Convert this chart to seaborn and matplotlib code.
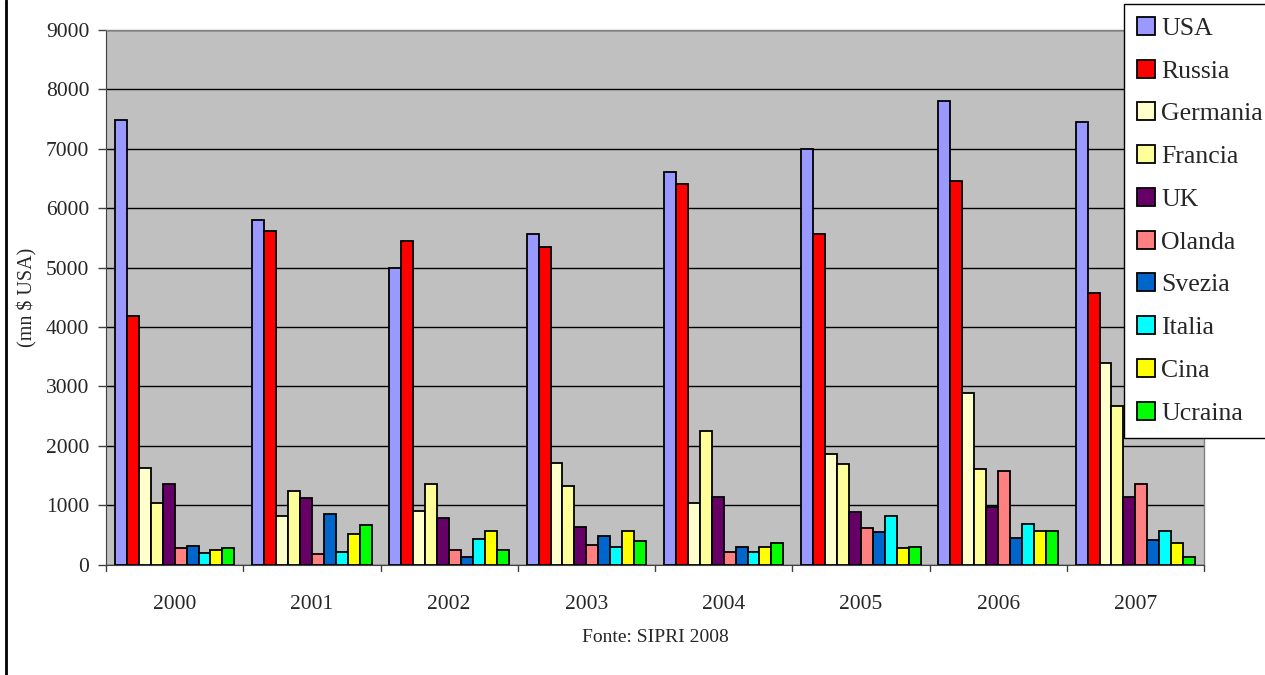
import numpy as np
import pandas as pd
import matplotlib
matplotlib.use("Agg")
import matplotlib.pyplot as plt
from matplotlib.lines import Line2D
import seaborn as sns

years = ["2000", "2001", "2002", "2003", "2004", "2005", "2006", "2007"]
countries = ["USA", "Russia", "Germania", "Francia", "UK",
             "Olanda", "Svezia", "Italia", "Cina", "Ucraina"]

usa      = [7480, 5800, 4990, 5560, 6610, 7000, 7810, 7450]
russia   = [4180, 5620, 5440, 5350, 6410, 5560, 6460, 4570]
germania = [1620,  820,  900, 1710, 1030, 1860, 2880, 3390]
francia  = [1030, 1240, 1350, 1320, 2250, 1690, 1600, 2670]
uk       = [1350, 1120,  780,  630, 1140,  880,  960, 1140]
olanda   = [ 270,  180,  250,  330,  210,  610, 1580, 1350]
svezia   = [ 310,  850,  130,  480,  300,  540,  450,  420]
italia   = [ 190,  210,  430,  300,  210,  810,  690,  570]
cina     = [ 240,  510,  570,  570,  300,  270,  560,  360]
ucraina  = [ 270,  670,  250,  390,  360,  300,  560,  120]

colors = ["#9999FF", "#FF0000", "#FFFFCC", "#FFFF99", "#660066",
          "#FF8080", "#0066CC", "#00FFFF", "#FFFF00", "#00FF00"]

series = [usa, russia, germania, francia, uk, olanda, svezia, italia, cina, ucraina]
df = pd.DataFrame(
    [(y, c, v) for c, vals in zip(countries, series) for y, v in zip(years, vals)],
    columns=["Anno", "Paese", "Valore"],
)

sns.set_style("white")
plt.rcParams["font.family"] = ["Liberation Serif", "DejaVu Serif"]

fig = plt.figure(figsize=(12.65, 6.75), dpi=100)
ax = fig.add_axes([106 / 1265, 1 - 564.5 / 675, (1204 - 106) / 1265, (564.5 - 30) / 675])
ax.set_facecolor("#C0C0C0")

sns.barplot(data=df, x="Anno", y="Valore", hue="Paese", order=years,
            hue_order=countries, palette=colors, width=0.87,
            edgecolor="black", linewidth=1.3, saturation=1, ax=ax,
            legend=False, zorder=3)

ax.set_ylim(0, 9000)
ax.set_xlim(-0.5, len(years) - 0.5)
ax.set_yticks(np.arange(0, 9001, 1000))
ax.yaxis.grid(True, color="black", linewidth=1.0, zorder=1)
ax.set_axisbelow(True)
ax.set_xlabel("")
ax.set_ylabel("(mn $ USA)", fontsize=14.5)
ax.yaxis.set_label_coords((37 - 106) / 1098, (564.5 - 297) / 534.5)

ax.tick_params(axis="y", labelsize=15.5, direction="out", length=6,
               width=1, color="#404040", pad=6, left=True)
ax.tick_params(axis="x", labelsize=15.5, length=0, pad=22)

# category separator ticks along the baseline
for xb in np.arange(-0.5, len(years), 1.0):
    ax.plot([xb, xb], [0, -0.012], transform=ax.get_xaxis_transform(),
            color="#404040", linewidth=1, clip_on=False)

for side in ["top", "right"]:
    ax.spines[side].set_color("#808080")
    ax.spines[side].set_linewidth(1)
ax.spines["left"].set_color("#404040")
ax.spines["bottom"].set_color("#404040")

handles = [plt.Rectangle((0, 0), 1, 1, facecolor=c, edgecolor="black", linewidth=1.3)
           for c in colors]
leg = fig.legend(handles, countries, loc="upper left",
                 bbox_to_anchor=(1124 / 1265, 1 - 4 / 675),
                 fontsize=18.5, frameon=True, fancybox=False, framealpha=1,
                 edgecolor="black", handlelength=0.7, handleheight=0.7,
                 handletextpad=0.25, labelspacing=0.77, borderpad=0.5,
                 borderaxespad=0)
leg.get_frame().set_linewidth(1)

fig.text(655 / 1265, 1 - 638 / 675, "Fonte: SIPRI 2008",
         ha="center", va="center", fontsize=14)

# left frame line of the chart box
fig.add_artist(Line2D([6 / 1265, 6 / 1265], [0, 1], color="black", linewidth=2,
                      transform=fig.transFigure))

fig.savefig("out.png", dpi=100)
